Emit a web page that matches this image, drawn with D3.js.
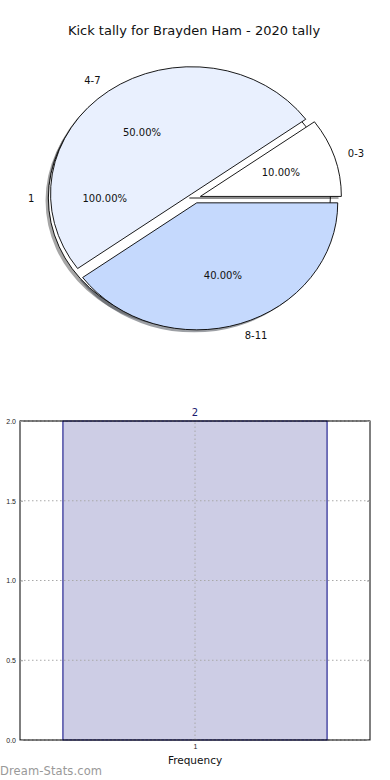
<!DOCTYPE html>
<html>
<head>
    <meta charset="utf-8">
    <style>
        body { margin: 0; background: #fff; }
        svg { display: block; font-family: "DejaVu Sans", sans-serif; }
        .grid line { stroke: #a8a8a8; stroke-dasharray: 1.5, 2.5; }
        .tick text { font-size: 7px; fill: #222; }
    </style>
</head>
<body>
<svg width="390" height="780"></svg>

<script src="https://cdn.jsdelivr.net/npm/d3@7"></script>
<script>
    // pie data
    let sliceLabels = ["0-3", "4-7", "8-11"]
    let sliceValues = [1, 5, 4]
    let sliceColors = ["#ffffff", "#e9f0fe", "#c5d9fd"]
    // the second, single-slice pie that sits underneath
    let baseLabels = ["1"]
    let baseValues = [1]

    // histogram data
    let barCategories = [1]
    let barValues = [2]
    let yTicks = [0, 0.5, 1.0, 1.5, 2.0]

    let svg = d3.select("svg")

    svg.append("text")
        .attr("x", 194)
        .attr("y", 35)
        .attr("text-anchor", "middle")
        .attr("font-size", 13)
        .attr("fill", "#111")
        .text("Kick tally for Brayden Ham - 2020 tally")

    // ---- pie ----
    let cx = 195, cy = 198, rx = 141, ry = 127
    let explode = 0.04

    // matplotlib style: start at 3 o'clock, go counter-clockwise
    let pie = d3.pie().sort(null).startAngle(Math.PI / 2).endAngle(Math.PI / 2 - 2 * Math.PI)
    let arc = d3.arc().innerRadius(0).outerRadius(rx)

    let baseArcs = pie(baseValues).map((d, i) => ({ ...d, label: baseLabels[i], color: "#ffffff", total: d3.sum(baseValues) }))
    let sliceArcs = pie(sliceValues).map((d, i) => ({ ...d, label: sliceLabels[i], color: sliceColors[i], total: d3.sum(sliceValues) }))
    let allArcs = baseArcs.concat(sliceArcs)

    let mid = d => (d.startAngle + d.endAngle) / 2
    // wedge centre after exploding it
    let centre = d => [cx + explode * rx * Math.sin(mid(d)), cy - explode * ry * Math.cos(mid(d))]

    let pieG = svg.append("g").attr("class", "pie")

    // shadows sit below every wedge
    pieG.selectAll(".shadow")
        .data(allArcs)
        .join("path")
        .attr("class", "shadow")
        .attr("d", arc)
        .attr("transform", d => {
            let c = centre(d)
            return `translate(${c[0] - 0.02 * rx},${c[1] + 0.02 * ry}) scale(1,${ry / rx})`
        })
        .attr("fill", d => {
            let c = d3.rgb(d.color)
            return d3.rgb(c.r * 0.3, c.g * 0.3, c.b * 0.3)
        })
        .attr("fill-opacity", 0.5)

    pieG.selectAll(".wedge")
        .data(allArcs)
        .join("path")
        .attr("class", "wedge")
        .attr("d", arc)
        .attr("transform", d => {
            let c = centre(d)
            return `translate(${c[0]},${c[1]}) scale(1,${ry / rx})`
        })
        .attr("fill", d => d.color)
        .attr("stroke", "#000")
        .attr("stroke-width", 0.9)
        .attr("vector-effect", "non-scaling-stroke")

    // the full circle keeps its radial edge at 0 degrees
    pieG.selectAll(".radial")
        .data(baseArcs)
        .join("line")
        .attr("class", "radial")
        .attr("x1", d => centre(d)[0])
        .attr("y1", d => centre(d)[1])
        .attr("x2", d => centre(d)[0] + rx)
        .attr("y2", d => centre(d)[1])
        .attr("stroke", "#000")
        .attr("stroke-width", 0.9)

    // slice labels
    pieG.selectAll(".slabel")
        .data(allArcs)
        .join("text")
        .attr("class", "slabel")
        .attr("x", d => centre(d)[0] + 1.1 * rx * Math.sin(mid(d)))
        .attr("y", d => centre(d)[1] - 1.1 * ry * Math.cos(mid(d)))
        .attr("dy", "0.35em")
        .attr("text-anchor", d => Math.sin(mid(d)) > 0 ? "start" : "end")
        .attr("font-size", 10)
        .attr("fill", "#111")
        .text(d => d.label)

    // percentage labels
    pieG.selectAll(".plabel")
        .data(allArcs)
        .join("text")
        .attr("class", "plabel")
        .attr("x", d => centre(d)[0] + 0.6 * rx * Math.sin(mid(d)))
        .attr("y", d => centre(d)[1] - 0.6 * ry * Math.cos(mid(d)))
        .attr("dy", "0.35em")
        .attr("text-anchor", "middle")
        .attr("font-size", 10)
        .attr("fill", "#111")
        .text(d => d3.format(".2f")(d.value / d.total * 100) + "%")

    // ---- bar chart ----
    let margin = { top: 421, right: 20, bottom: 40, left: 20 }
    let width = 390, height = 780

    let x = d3.scaleLinear()
        .domain([0.47, 1.53])
        .range([margin.left, width - margin.right])

    let y = d3.scaleLinear()
        .domain([0, 2])
        .range([height - margin.bottom, margin.top])

    let barG = svg.append("g").attr("class", "barchart")

    barG.append("g")
        .selectAll("rect")
        .data(barCategories)
        .join("rect")
        .attr("x", d => x(d - 0.4))
        .attr("width", x(1.4) - x(0.6))
        .attr("y", (d, i) => y(barValues[i]))
        .attr("height", (d, i) => y(0) - y(barValues[i]))
        .attr("fill", "#cdcde5")
        .attr("stroke", "#000080")
        .attr("stroke-width", 1)

    // grid goes over the bar, like the original
    barG.append("g")
        .attr("class", "grid")
        .selectAll("line")
        .data(yTicks)
        .join("line")
        .attr("x1", x.range()[0])
        .attr("x2", x.range()[1])
        .attr("y1", d => y(d))
        .attr("y2", d => y(d))

    barG.append("g")
        .attr("class", "grid")
        .selectAll("line")
        .data(barCategories)
        .join("line")
        .attr("x1", d => x(d))
        .attr("x2", d => x(d))
        .attr("y1", y(0))
        .attr("y2", y(2))

    // frame
    barG.append("rect")
        .attr("x", x.range()[0])
        .attr("y", y(2))
        .attr("width", x.range()[1] - x.range()[0])
        .attr("height", y(0) - y(2))
        .attr("fill", "none")
        .attr("stroke", "#000")
        .attr("stroke-width", 1)

    let yAxis = d3.axisLeft(y)
        .tickValues(yTicks)
        .tickFormat(d3.format(".1f"))
        .tickSize(3)
        .tickPadding(1)

    barG.append("g")
        .attr("transform", `translate(${x.range()[0]},0)`)
        .call(yAxis)
        .call(g => g.select(".domain").remove())
        .call(g => g.selectAll(".tick line").attr("stroke", "#999").attr("x2", 3))

    barG.append("g")
        .attr("transform", `translate(${x.range()[1]},0)`)
        .call(d3.axisRight(y).tickValues(yTicks).tickSize(0).tickFormat(""))
        .call(g => g.select(".domain").remove())
        .call(g => g.selectAll(".tick line").attr("stroke", "#999").attr("x2", -3))

    let xAxis = d3.axisBottom(x)
        .tickValues(barCategories)
        .tickFormat(d3.format("d"))
        .tickSize(0)
        .tickPadding(4)

    barG.append("g")
        .attr("transform", `translate(0,${y(0)})`)
        .call(xAxis)
        .call(g => g.select(".domain").remove())

    barG.selectAll(".barlabel")
        .data(barCategories)
        .join("text")
        .attr("class", "barlabel")
        .attr("x", d => x(d))
        .attr("y", (d, i) => y(barValues[i]) - 5)
        .attr("text-anchor", "middle")
        .attr("font-size", 10)
        .attr("fill", "#1a1a6e")
        .text((d, i) => barValues[i])

    svg.append("text")
        .attr("x", x(1))
        .attr("y", 764)
        .attr("text-anchor", "middle")
        .attr("font-size", 10.5)
        .attr("fill", "#111")
        .text("Frequency")

    svg.append("text")
        .attr("x", 0)
        .attr("y", 775)
        .attr("font-size", 11.5)
        .attr("fill", "#999")
        .attr("textLength", 102)
        .text("Dream-Stats.com")
</script>
</body>
</html>
